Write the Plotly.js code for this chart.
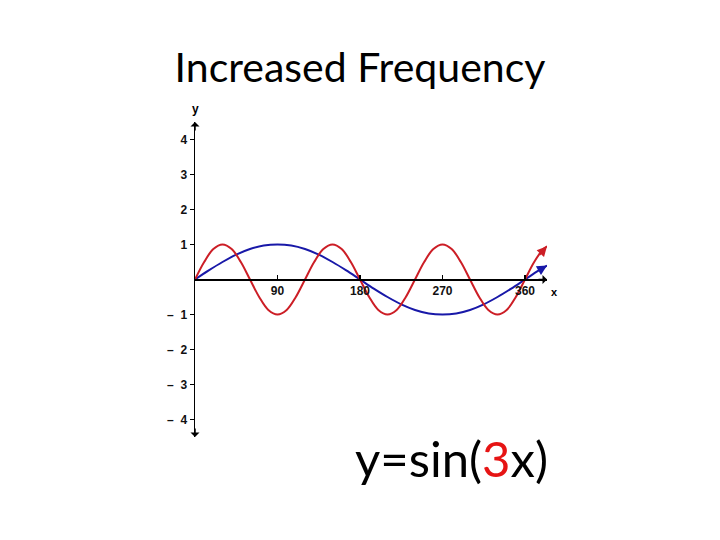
<!DOCTYPE html>
<html>
<head>
<meta charset="utf-8">
<script src="https://cdn.plot.ly/plotly-3.0.1.min.js"></script>
<style>html,body{margin:0;padding:0;background:#fff;}#chart{width:720px;height:540px;}</style>
</head>
<body>
<div id="chart"></div>
<script>
// Red curve y = sin(3x), read at every 10 degrees
const redX = [0,10,20,30,40,50,60,70,80,90,100,110,120,130,140,150,160,170,180,190,200,210,220,230,240,250,260,270,280,290,300,310,320,330,340,350,360,370,380,384];
const redY = [0,0.5,0.87,1,0.87,0.5,0,-0.5,-0.87,-1,-0.87,-0.5,0,0.5,0.87,1,0.87,0.5,0,-0.5,-0.87,-1,-0.87,-0.5,0,0.5,0.87,1,0.87,0.5,0,-0.5,-0.87,-1,-0.87,-0.5,0,0.5,0.87,0.95];
// Blue curve y = sin(x), read at every 15 degrees
const blueX = [0,15,30,45,60,75,90,105,120,135,150,165,180,195,210,225,240,255,270,285,300,315,330,345,360,375,384];
const blueY = [0,0.26,0.5,0.71,0.87,0.97,1,0.97,0.87,0.71,0.5,0.26,0,-0.26,-0.5,-0.71,-0.87,-0.97,-1,-0.97,-0.87,-0.71,-0.5,-0.26,0,0.26,0.4];
const xTickVals = [90,180,270,360];
const xTickText = ['90','180','270','360'];
const yTickVals = [-4,-3,-2,-1,1,2,3,4];
const yTickText = ['\u2013\u00a0\u00a01','\u2013\u00a0\u00a02','\u2013\u00a0\u00a03','\u2013\u00a0\u00a04'].reverse().concat(['1','2','3','4']);

const RED = 'rgb(204,30,38)';
const BLUE = 'rgb(24,24,168)';
const xMax = 384, yLim = 4.5;
const tickFont = {family:'Liberation Sans', size:12, color:'#111', weight:'bold'};

const traces = [
  {x: blueX, y: blueY, mode:'lines', line:{color:BLUE, width:2, shape:'spline'}, hoverinfo:'skip'},
  {x: redX, y: redY, mode:'lines', line:{color:RED, width:2, shape:'spline'}, hoverinfo:'skip'}
];

function endArrow(xs, ys, color, dx, dy) {
  const n = xs.length;
  return {x: xs[n-1], y: ys[n-1], ax: dx, ay: dy, xref:'x', yref:'y',
    showarrow:true, arrowhead:2, arrowsize:1, arrowwidth:2, arrowcolor:color, text:''};
}

const layout = {
  width:720, height:540,
  margin:{l:195, r:173, t:122, b:103},
  paper_bgcolor:'#fff', plot_bgcolor:'rgba(0,0,0,0)',
  showlegend:false,
  xaxis:{range:[0,xMax], anchor:'free', position:0.5, showgrid:false, zeroline:false,
    showline:true, linecolor:'#000', linewidth:2,
    tickvals:xTickVals, ticktext:xTickText, ticks:'inside', ticklen:4, tickwidth:1.5, tickcolor:'#000',
    tickfont:tickFont},
  xaxis2:{range:[0,xMax], overlaying:'x', anchor:'free', position:0.5, showgrid:false, zeroline:false,
    showline:false, tickvals:xTickVals, ticks:'outside', ticklen:4, tickwidth:1.5, tickcolor:'#000', showticklabels:false},
  yaxis:{range:[-yLim,yLim], showgrid:false, zeroline:false, showline:true, linecolor:'#000', linewidth:1.5,
    tickvals:yTickVals, ticktext:yTickText, ticks:'outside', ticklen:4, tickwidth:1.5, tickcolor:'#000',
    tickfont:tickFont},
  yaxis2:{range:[-yLim,yLim], overlaying:'y', side:'left', anchor:'free', position:0, showgrid:false, zeroline:false,
    showline:false, tickvals:yTickVals, ticks:'inside', ticklen:4, tickwidth:1.5, tickcolor:'#000', showticklabels:false},
  title:{text:'Increased Frequency', font:{family:'Lato', size:41, color:'#000'}, x:0.5, xref:'container', xanchor:'center', y:0.874, yref:'container', yanchor:'middle'},
  annotations:[
    endArrow(redX, redY, RED, -9, 10),
    endArrow(blueX, blueY, BLUE, -10, 6),
    {x:xMax, y:0, ax:-10, ay:0, showarrow:true, arrowhead:1, arrowsize:1, arrowwidth:1.5, arrowcolor:'#000', text:''},
    {x:0, y:yLim, ax:0, ay:10, showarrow:true, arrowhead:1, arrowsize:1, arrowwidth:1.5, arrowcolor:'#000', text:''},
    {x:0, y:-yLim, ax:0, ay:-10, showarrow:true, arrowhead:1, arrowsize:1, arrowwidth:1.5, arrowcolor:'#000', text:''},
    {x:xMax, y:0, xref:'x', yref:'y', text:'x', showarrow:false, xanchor:'left', yanchor:'top', xshift:2, yshift:-4, font:{family:'Liberation Sans', size:11, color:'#000', weight:'bold'}},
    {x:0, y:yLim, xref:'x', yref:'y', text:'y', showarrow:false, xanchor:'center', yanchor:'bottom', yshift:4, font:{family:'Liberation Sans', size:12, color:'#000', weight:'bold'}},
    {x:1.008, y:-0.067, xref:'paper', yref:'paper', xanchor:'right', yanchor:'middle', showarrow:false,
      text:'y=sin(<span style="color:rgb(230,20,20)">3</span>x)', font:{family:'Lato', size:49, color:'#000'}}
  ]
};

Plotly.newPlot('chart', traces, layout, {staticPlot:true, displayModeBar:false});
</script>
</body>
</html>
